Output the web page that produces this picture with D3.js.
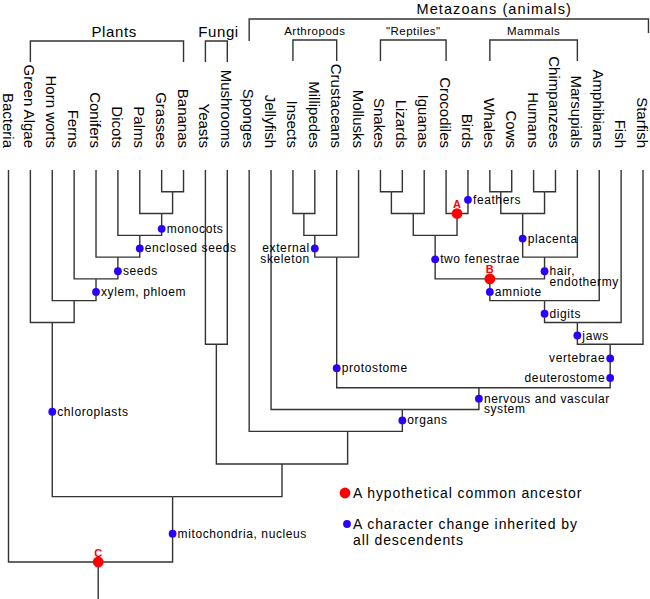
<!DOCTYPE html>
<html><head><meta charset="utf-8">
<script src="https://cdn.jsdelivr.net/npm/d3@7"></script>
<style>body{margin:0;background:#fff}</style>
</head><body>
<svg id="chart" width="650" height="599"></svg>
<script>
// ---------- data ----------
const leaves = ["Bacteria","Green Algae","Horn worts","Ferns","Conifers","Dicots","Palms","Grasses","Bananas",
  "Yeasts","Mushrooms","Sponges","Jellyfish","Insects","Millipedes","Crustaceans","Mollusks",
  "Snakes","Lizards","Iguanas","Crocodiles","Birds","Whales","Cows","Humans","Chimpanzees",
  "Marsupials","Amphibians","Fish","Starfish"];

// [id, children, level (branching depth), column (leaf-index units)]
const clades = [
  ["GB", ["Grasses","Bananas"], 1, 7.5],
  ["monocots", ["Palms","GB"], 2, 7],
  ["angio", ["Dicots","monocots"], 3, 6],
  ["seed", ["Conifers","angio"], 4, 5],
  ["vasc", ["Ferns","seed"], 5, 4],
  ["land", ["Horn worts","vasc"], 6, 3],
  ["plants", ["Green Algae","land"], 7, 2],
  ["fungi", ["Yeasts","Mushrooms"], 8, 9.5],
  ["IM", ["Insects","Millipedes"], 2, 13.5],
  ["arthro", ["IM","Crustaceans"], 3, 14],
  ["proto", ["arthro","Mollusks"], 4, 15],
  ["SL", ["Snakes","Lizards"], 1, 17.5],
  ["squam", ["SL","Iguanas"], 2, 18.5],
  ["archo", ["Crocodiles","Birds"], 2, 20.5],
  ["diaps", ["squam","archo"], 3, 19.5],
  ["WC", ["Whales","Cows"], 1, 22.5],
  ["HC", ["Humans","Chimpanzees"], 1, 24.5],
  ["plac", ["WC","HC"], 2, 23.5],
  ["mamm", ["plac","Marsupials"], 4, 24.5],
  ["amnio", ["diaps","mamm"], 5, 22],
  ["tetra", ["amnio","Amphibians"], 6, 24.5],
  ["gnath", ["tetra","Fish"], 7, 26],
  ["deut", ["gnath","Starfish"], 8, 27.5],
  ["bilat", ["proto","deut"], 10, 21.5],
  ["eumet", ["Jellyfish","bilat"], 11, 18],
  ["metaz", ["Sponges","eumet"], 12, 15.5],
  ["opist", ["fungi","metaz"], 13.5, 12.5],
  ["euk", ["plants","opist"], 15, 7.5],
  ["root", ["Bacteria","euk"], 18, 4.1]
];

// [label lines, on branch of, level, side]
const traits = [
  [["monocots"], "monocots", 2.7, "right"],
  [["enclosed seeds"], "angio", 3.6, "right"],
  [["seeds"], "seed", 4.65, "right"],
  [["xylem, phloem"], "vasc", 5.6, "right"],
  [["chloroplasts"], "plants", 11.1, "right"],
  [["mitochondria, nucleus"], "euk", 16.7, "right"],
  [["external","skeleton"], "arthro", 3.6, "left"],
  [["feathers"], "Birds", 1.37, "right"],
  [["placenta"], "plac", 3.15, "right"],
  [["two fenestrae"], "diaps", 4.1, "right"],
  [["hair,","endothermy"], "mamm", 4.65, "right"],
  [["amniote"], "amnio", 5.6, "right"],
  [["digits"], "tetra", 6.6, "right"],
  [["jaws"], "gnath", 7.6, "right"],
  [["vertebrae"], "deut", 8.65, "left"],
  [["deuterostome"], "deut", 9.55, "left"],
  [["protostome"], "proto", 9.1, "right"],
  [["nervous and vascular","system"], "bilat", 10.5, "right"],
  [["organs"], "eumet", 11.5, "right"]
];

const ancestors = [["A","archo"],["B","amnio"],["C","root"]];

// [label, from column, to column, label column, tier]
const groups = [
  ["Plants", 1, 8, 4.83, "major"],
  ["Fungi", 9, 10, 9.6, "major"],
  ["Metazoans (animals)", 11, 29.25, 22.2, "top"],
  ["Arthropods", 13, 15, 14, "minor"],
  ["\"Reptiles\"", 17, 20, 18.5, "minor"],
  ["Mammals", 22, 26, 24, "minor"]
];

const legendItems = [
  ["ancestor", ["A hypothetical common ancestor"]],
  ["character", ["A character change inherited by", "all descendents"]]
];

// ---------- drawing ----------
const W = 650, H = 599;
const FONT = "'Liberation Sans', Arial, Helvetica, sans-serif";
const RED = "#ff0000", BLUE = "#2a00ff", LINE = "#333";
const svg = d3.select("#chart");

const x = d3.scaleLinear().domain([0, leaves.length - 1]).range([8.5, 643]);
const y = d3.scaleLinear().domain([0, 18]).range([170, 562]);

const pos = new Map();
leaves.forEach((n, i) => pos.set(n, {col: i, level: 0}));
clades.forEach(([id, kids, level, col]) => pos.set(id, {col, level, kids}));

// tree branches (elbows)
const tree = svg.append("g").attr("fill", "none").attr("stroke", LINE)
  .attr("stroke-width", 1.4).attr("stroke-linejoin", "miter");
clades.forEach(([id, kids, level, col]) => {
  kids.forEach(k => {
    const p = pos.get(k);
    tree.append("path")
      .attr("d", `M${x(p.col)},${y(p.level)}V${y(level)}H${x(col)}`);
  });
});
const rootP = pos.get("root");
tree.append("path").attr("d", `M${x(rootP.col)},${y(rootP.level)}V${H}`);

// leaf labels
svg.append("g").selectAll("text").data(leaves).join("text")
  .attr("transform", (d, i) => `translate(${x(i)},148) rotate(90)`)
  .attr("text-anchor", "end").attr("dy", "0.4em")
  .attr("font-family", FONT).attr("font-size", 15).attr("fill", "#000")
  .text(d => d);

// group brackets
const tiers = {
  major: {bar: 41, dropL: 62, dropR: 62, base: 37, size: 15, spacing: 0.6, weight: "normal"},
  top:   {bar: 19, dropL: 41, dropR: 33, base: 14, size: 14.5, spacing: 1.1, weight: "normal"},
  minor: {bar: 40, dropL: 61, dropR: 61, base: 35, size: 11.5, spacing: 0.5, weight: "normal"}
};
const gb = svg.append("g");
groups.forEach(([label, c0, c1, lc, tier]) => {
  const t = tiers[tier];
  gb.append("path").attr("fill", "none").attr("stroke", LINE).attr("stroke-width", 1.4)
    .attr("d", `M${x(c0)},${t.dropL}V${t.bar}H${x(c1)}V${t.dropR}`);
  gb.append("text").attr("x", x(lc)).attr("y", t.base).attr("text-anchor", "middle")
    .attr("font-family", FONT).attr("font-size", t.size).attr("letter-spacing", t.spacing)
    .attr("font-weight", t.weight).attr("fill", "#000").text(label);
});

// trait dots and labels
const gt = svg.append("g");
traits.forEach(([lines, on, level, side]) => {
  const cx = x(pos.get(on).col), cy = y(level);
  gt.append("circle").attr("cx", cx).attr("cy", cy).attr("r", 3.9).attr("fill", BLUE);
  const t = gt.append("text").attr("font-family", FONT).attr("font-size", 12)
    .attr("letter-spacing", 0.6).attr("fill", "#000")
    .attr("text-anchor", side === "right" ? "start" : "end");
  lines.forEach((ln, i) => {
    t.append("tspan").attr("x", side === "right" ? cx + 5 : cx - 5)
      .attr("y", cy + 4 + i * 10.5).text(ln);
  });
});

// hypothetical ancestors
const ga = svg.append("g");
ancestors.forEach(([lab, on]) => {
  const p = pos.get(on);
  ga.append("circle").attr("cx", x(p.col)).attr("cy", y(p.level)).attr("r", 5.4).attr("fill", RED);
  ga.append("text").attr("x", x(p.col)).attr("y", y(p.level) - 5.5).attr("text-anchor", "middle")
    .attr("font-family", FONT).attr("font-size", 11).attr("font-weight", "bold")
    .attr("fill", RED).text(lab);
});

// legend
const lg = svg.append("g");
legendItems.forEach(([kind, lines], i) => {
  const cy = 493 + i * 31;
  lg.append("circle").attr("cx", kind === "ancestor" ? 345 : 347).attr("cy", cy)
    .attr("r", kind === "ancestor" ? 5.4 : 3.9).attr("fill", kind === "ancestor" ? RED : BLUE);
  const t = lg.append("text").attr("font-family", FONT).attr("font-size", 14)
    .attr("letter-spacing", 0.9).attr("fill", "#000");
  lines.forEach((ln, j) => t.append("tspan").attr("x", 353).attr("y", cy + 5 + j * 16).text(ln));
});
</script>
</body></html>
